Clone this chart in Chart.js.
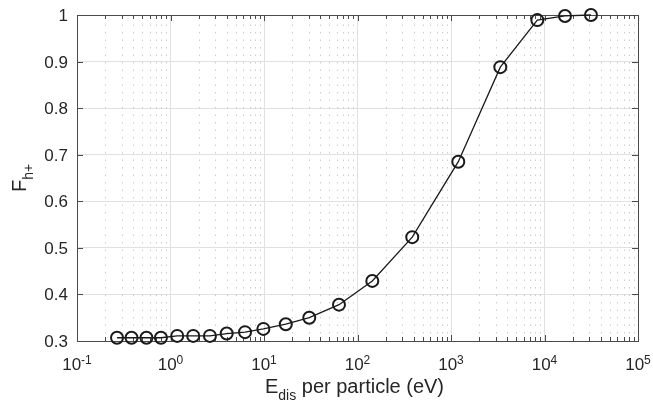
<!DOCTYPE html>
<html>
<head>
<meta charset="utf-8">
<title>F_h+ vs E_dis</title>
<script src="https://cdn.jsdelivr.net/npm/chart.js@4.4.1/dist/chart.umd.min.js"></script>
<style>
  html, body { margin: 0; padding: 0; background: #fff; }
  #wrap { width: 653px; height: 406px; }
</style>
</head>
<body>
<div id="wrap"><canvas id="chart" width="653" height="406"></canvas></div>
<script>
// --- DATA ---
const energyEv = [0.268, 0.383, 0.553, 0.79, 1.18, 1.75, 2.64, 3.99, 6.27, 9.85,
                  17.1, 30.5, 63.4, 144, 385, 1197, 3368, 8380, 16570, 31400];
const fractionHplus = [0.307, 0.307, 0.307, 0.307, 0.311, 0.311, 0.311, 0.316, 0.319, 0.326,
                       0.336, 0.350, 0.378, 0.429, 0.523, 0.685, 0.888, 0.989, 0.998, 1.0];

const xTickValues = [0.1, 1, 10, 100, 1000, 10000, 100000];
const xTickExponents = ['-1', '0', '1', '2', '3', '4', '5'];
const yTickValues = [0.3, 0.4, 0.5, 0.6, 0.7, 0.8, 0.9, 1];
const yTickLabels = ['0.3', '0.4', '0.5', '0.6', '0.7', '0.8', '0.9', '1'];

const xTitleMain = 'E';
const xTitleSub = 'dis';
const xTitleRest = ' per particle (eV)';
const yTitleMain = 'F';
const yTitleSub = 'h+';

// --- STYLE ---
const FONT = '"Liberation Sans", Arial, Helvetica, sans-serif';
const TEXT_COLOR = '#262626';
const AXIS_COLOR = '#4a4a4a';

// --- MATLAB-STYLE AXES PLUGIN (box, inward ticks, minor grid, labels) ---
const matlabAxes = {
  id: 'matlabAxes',
  beforeDatasetsDraw(chart) {
    const { ctx, chartArea: a, scales: { x, y } } = chart;
    ctx.save();

    // minor dotted grid on the log axis
    ctx.strokeStyle = '#cdcdcd';
    ctx.lineWidth = 1;
    ctx.setLineDash([1.5, 6]);
    const minors = [];
    for (let k = -1; k <= 4; k++) {
      for (let m = 2; m <= 9; m++) minors.push(m * Math.pow(10, k));
    }
    minors.forEach(v => {
      const px = Math.round(x.getPixelForValue(v)) + 0.5;
      ctx.beginPath();
      ctx.moveTo(px, a.bottom);
      ctx.lineTo(px, a.top);
      ctx.stroke();
    });
    ctx.setLineDash([]);

    // box
    ctx.strokeStyle = AXIS_COLOR;
    ctx.lineWidth = 1;
    ctx.strokeRect(Math.round(a.left) + 0.5, Math.round(a.top) + 0.5,
                   Math.round(a.right - a.left), Math.round(a.bottom - a.top));

    // inward ticks
    ctx.beginPath();
    minors.forEach(v => {
      const px = Math.round(x.getPixelForValue(v)) + 0.5;
      ctx.moveTo(px, a.bottom); ctx.lineTo(px, a.bottom - 4);
      ctx.moveTo(px, a.top); ctx.lineTo(px, a.top + 4);
    });
    xTickValues.forEach(v => {
      const px = Math.round(x.getPixelForValue(v)) + 0.5;
      ctx.moveTo(px, a.bottom); ctx.lineTo(px, a.bottom - 6);
      ctx.moveTo(px, a.top); ctx.lineTo(px, a.top + 6);
    });
    yTickValues.forEach(v => {
      const py = Math.round(y.getPixelForValue(v)) + 0.5;
      ctx.moveTo(a.left, py); ctx.lineTo(a.left + 6, py);
      ctx.moveTo(a.right, py); ctx.lineTo(a.right - 6, py);
    });
    ctx.stroke();
    ctx.restore();
  },
  afterDraw(chart) {
    const { ctx, chartArea: a, scales: { x, y } } = chart;
    ctx.save();
    ctx.fillStyle = TEXT_COLOR;
    ctx.textBaseline = 'alphabetic';

    // x tick labels: 10^k
    xTickValues.forEach((v, i) => {
      const cx = x.getPixelForValue(v);
      ctx.font = '17px ' + FONT;
      const wBase = ctx.measureText('10').width;
      ctx.font = '12px ' + FONT;
      const wExp = ctx.measureText(xTickExponents[i]).width;
      const left = cx - (wBase + wExp) / 2;
      ctx.textAlign = 'left';
      ctx.font = '17px ' + FONT;
      ctx.fillText('10', left, a.bottom + 29);
      ctx.font = '12px ' + FONT;
      ctx.fillText(xTickExponents[i], left + wBase, a.bottom + 23);
    });

    // y tick labels
    ctx.font = '17px ' + FONT;
    ctx.textAlign = 'right';
    yTickValues.forEach((v, i) => {
      ctx.fillText(yTickLabels[i], a.left - 9, y.getPixelForValue(v) + 6);
    });

    // x title with subscript
    ctx.textAlign = 'left';
    ctx.font = '20px ' + FONT;
    const wE = ctx.measureText(xTitleMain).width;
    const wRest = ctx.measureText(xTitleRest).width;
    ctx.font = '14px ' + FONT;
    const wSub = ctx.measureText(xTitleSub).width;
    const totalX = wE + wSub + wRest;
    const xStart = (a.left + a.right) / 2 - 3 - totalX / 2;
    const base = a.bottom + 52;
    ctx.font = '20px ' + FONT;
    ctx.fillText(xTitleMain, xStart, base);
    ctx.font = '14px ' + FONT;
    ctx.fillText(xTitleSub, xStart + wE, base + 7);
    ctx.font = '20px ' + FONT;
    ctx.fillText(xTitleRest, xStart + wE + wSub, base);

    // y title with subscript (rotated)
    ctx.font = '20px ' + FONT;
    const wF = ctx.measureText(yTitleMain).width;
    ctx.font = '14px ' + FONT;
    const wH = ctx.measureText(yTitleSub).width;
    ctx.translate(26, (a.top + a.bottom) / 2);
    ctx.rotate(-Math.PI / 2);
    const yStart = -(wF + wH) / 2;
    ctx.font = '20px ' + FONT;
    ctx.fillText(yTitleMain, yStart, 0);
    ctx.font = '14px ' + FONT;
    ctx.fillText(yTitleSub, yStart + wF, 7);
    ctx.restore();
  }
};

// --- CHART ---
const points = energyEv.map((e, i) => ({ x: e, y: fractionHplus[i] }));

new Chart(document.getElementById('chart').getContext('2d'), {
  type: 'line',
  data: {
    datasets: [{
      data: points,
      borderColor: '#1a1a1a',
      borderWidth: 1.3,
      pointStyle: 'circle',
      pointRadius: 6,
      pointBorderWidth: 2,
      pointBorderColor: '#1a1a1a',
      pointBackgroundColor: 'rgba(0,0,0,0)',
      tension: 0,
      clip: false
    }]
  },
  options: {
    responsive: false,
    devicePixelRatio: 1,
    animation: false,
    layout: { padding: { left: 77, right: 15, top: 15, bottom: 65 } },
    plugins: { legend: { display: false }, tooltip: { enabled: false } },
    scales: {
      x: {
        type: 'logarithmic',
        min: 0.1,
        max: 100000,
        afterBuildTicks: s => { s.ticks = xTickValues.map(v => ({ value: v, major: true })); },
        ticks: { display: false },
        grid: { color: '#e0e0e0', lineWidth: 1, drawTicks: false },
        border: { display: false }
      },
      y: {
        type: 'linear',
        min: 0.3,
        max: 1,
        afterBuildTicks: s => { s.ticks = yTickValues.map(v => ({ value: v })); },
        ticks: { display: false },
        grid: { color: '#e0e0e0', lineWidth: 1, drawTicks: false },
        border: { display: false }
      }
    }
  },
  plugins: [matlabAxes]
});
</script>
</body>
</html>
